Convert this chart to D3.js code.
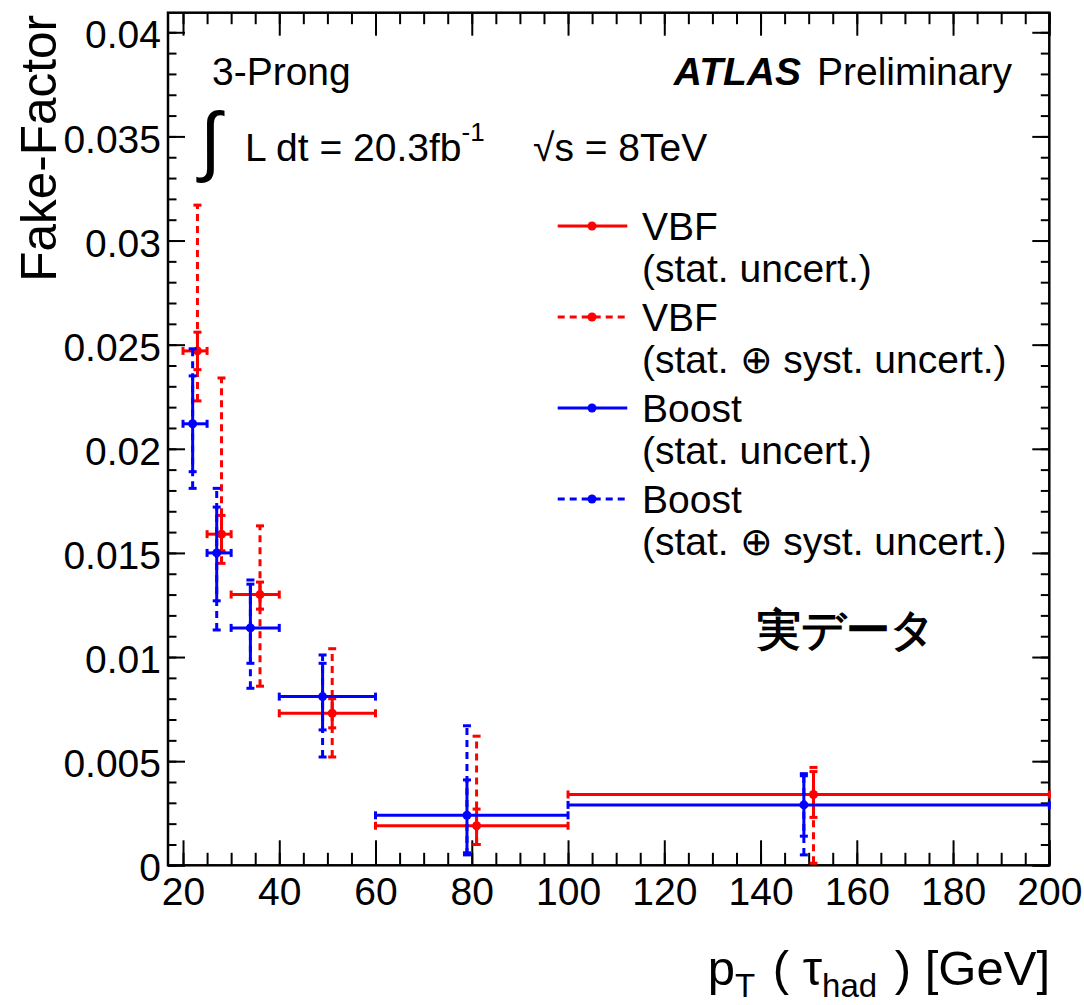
<!DOCTYPE html>
<html>
<head>
<meta charset="utf-8">
<script src="https://cdn.jsdelivr.net/npm/d3@7"></script>
<style>
  html, body { margin: 0; padding: 0; background: #fff; }
  svg { display: block; }
  text { font-family: "Liberation Sans", Arial, Helvetica, sans-serif; fill: #000; }
</style>
</head>
<body>
<svg id="chart" width="1084" height="1005"></svg>
<script>
// pT bins (GeV)
const binLow  = [20, 25, 30, 40, 60, 100];
const binHigh = [25, 30, 40, 60, 100, 200];

// VBF fake factors: points slightly shifted right within each bin
const vbfX      = [23, 28, 36, 51, 81, 151];
const vbfVal    = [0.0247, 0.0159, 0.0130, 0.0073, 0.0019, 0.0034];
const vbfStatLo = [0.0238, 0.0151, 0.0123, 0.0066, 0.0010, 0.0023];
const vbfStatHi = [0.0256, 0.0168, 0.0136, 0.0080, 0.0027, 0.0045];
const vbfTotLo  = [0.0223, 0.0145, 0.0086, 0.0052, 0.0010, 0.0001];
const vbfTotHi  = [0.0317, 0.0234, 0.0163, 0.0104, 0.0062, 0.0047];

// Boost fake factors: points slightly shifted left within each bin
const boostX      = [22, 27, 34, 49, 79, 149];
const boostVal    = [0.0212, 0.0150, 0.0114, 0.0081, 0.0024, 0.0029];
const boostStatLo = [0.0189, 0.0127, 0.0097, 0.0065, 0.0006, 0.0014];
const boostStatHi = [0.0235, 0.0172, 0.0135, 0.0097, 0.0041, 0.0043];
const boostTotLo  = [0.0181, 0.0113, 0.0085, 0.0052, 0.0005, 0.0005];
const boostTotHi  = [0.0248, 0.0181, 0.0137, 0.0101, 0.0067, 0.0044];

// Axis ticks
const xTicks      = [20, 40, 60, 80, 100, 120, 140, 160, 180, 200];
const xMinorTicks = d3.range(20, 200.1, 5);
const yTicks      = [0, 0.005, 0.01, 0.015, 0.02, 0.025, 0.03, 0.035, 0.04];
const yTickLabels = ["0", "0.005", "0.01", "0.015", "0.02", "0.025", "0.03", "0.035", "0.04"];
const yMinorTicks = d3.range(0, 0.0405, 0.001);

const svg = d3.select("#chart");
const frame = { left: 168, right: 1049.3, top: 12.7, bottom: 865.3 };

const x = d3.scaleLinear().domain([16.88, 200]).range([frame.left, frame.right]);
const y = d3.scaleLinear().domain([0, 0.04094]).range([frame.bottom, frame.top]);

const RED = "#ff0000", BLUE = "#0000ff";
const FS = 39;

// ---- axes (ticks point inward) ----
function styleAxis(g) {
  g.select(".domain").remove();
  g.selectAll(".tick line").attr("stroke", "#000").attr("stroke-width", 2);
}

const noLabel = () => "";

svg.append("g").attr("transform", `translate(0,${frame.bottom})`)
  .call(d3.axisBottom(x).tickValues(xMinorTicks).tickSize(-12.5).tickFormat(noLabel)).call(styleAxis);
svg.append("g").attr("transform", `translate(0,${frame.bottom})`)
  .call(d3.axisBottom(x).tickValues(xTicks).tickSize(-25).tickPadding(12).tickFormat(d3.format("d")))
  .call(styleAxis)
  .call(g => g.selectAll("text").attr("font-size", FS).attr("font-family", "Liberation Sans, Arial, sans-serif"));

svg.append("g").attr("transform", `translate(0,${frame.top})`)
  .call(d3.axisTop(x).tickValues(xMinorTicks).tickSize(-11.5).tickFormat(noLabel)).call(styleAxis);
svg.append("g").attr("transform", `translate(0,${frame.top})`)
  .call(d3.axisTop(x).tickValues(xTicks).tickSize(-23).tickFormat(noLabel)).call(styleAxis);

svg.append("g").attr("transform", `translate(${frame.left},0)`)
  .call(d3.axisLeft(y).tickValues(yMinorTicks).tickSize(-8.5).tickFormat(noLabel)).call(styleAxis);
svg.append("g").attr("transform", `translate(${frame.left},0)`)
  .call(d3.axisLeft(y).tickValues(yTicks).tickSize(-17).tickPadding(7)
    .tickFormat((d, i) => yTickLabels[i]))
  .call(styleAxis)
  .call(g => g.selectAll("text").attr("font-size", FS).attr("dy", "0.4em")
    .attr("font-family", "Liberation Sans, Arial, sans-serif"));

svg.append("g").attr("transform", `translate(${frame.right},0)`)
  .call(d3.axisRight(y).tickValues(yMinorTicks).tickSize(-8.5).tickFormat(noLabel)).call(styleAxis);
svg.append("g").attr("transform", `translate(${frame.right},0)`)
  .call(d3.axisRight(y).tickValues(yTicks).tickSize(-17).tickFormat(noLabel)).call(styleAxis);

// frame
svg.append("rect")
  .attr("x", frame.left).attr("y", frame.top)
  .attr("width", frame.right - frame.left).attr("height", frame.bottom - frame.top)
  .attr("fill", "none").attr("stroke", "#000").attr("stroke-width", 2.5);

// ---- error bars ----
const CAP = 4;
function drawSeries(color, xs, vals, statLo, statHi, totLo, totHi) {
  const g = svg.append("g");
  const rows = xs.map((xv, i) => ({
    xv, v: vals[i], lo: binLow[i], hi: binHigh[i],
    sLo: statLo[i], sHi: statHi[i], tLo: totLo[i], tHi: totHi[i]
  }));

  // total uncertainty: dashed vertical
  rows.forEach(r => {
    g.append("line")
      .attr("x1", x(r.xv)).attr("x2", x(r.xv))
      .attr("y1", y(r.tLo)).attr("y2", y(r.tHi))
      .attr("stroke", color).attr("stroke-width", 3).attr("stroke-dasharray", "7,5");
    [r.tLo, r.tHi].forEach(e => {
      g.append("line")
        .attr("x1", x(r.xv) - CAP).attr("x2", x(r.xv) + CAP)
        .attr("y1", y(e)).attr("y2", y(e))
        .attr("stroke", color).attr("stroke-width", 3);
    });
  });

  // statistical uncertainty + bin width: solid
  rows.forEach(r => {
    g.append("line")
      .attr("x1", x(r.lo)).attr("x2", x(r.hi))
      .attr("y1", y(r.v)).attr("y2", y(r.v))
      .attr("stroke", color).attr("stroke-width", 3);
    [r.lo, r.hi].forEach(e => {
      g.append("line")
        .attr("x1", x(e)).attr("x2", x(e))
        .attr("y1", y(r.v) - CAP).attr("y2", y(r.v) + CAP)
        .attr("stroke", color).attr("stroke-width", 3);
    });
    g.append("line")
      .attr("x1", x(r.xv)).attr("x2", x(r.xv))
      .attr("y1", y(r.sLo)).attr("y2", y(r.sHi))
      .attr("stroke", color).attr("stroke-width", 3);
    [r.sLo, r.sHi].forEach(e => {
      g.append("line")
        .attr("x1", x(r.xv) - CAP).attr("x2", x(r.xv) + CAP)
        .attr("y1", y(e)).attr("y2", y(e))
        .attr("stroke", color).attr("stroke-width", 3);
    });
    g.append("circle")
      .attr("cx", x(r.xv)).attr("cy", y(r.v)).attr("r", 4.5)
      .attr("fill", color);
  });
}

drawSeries(RED, vbfX, vbfVal, vbfStatLo, vbfStatHi, vbfTotLo, vbfTotHi);
drawSeries(BLUE, boostX, boostVal, boostStatLo, boostStatHi, boostTotLo, boostTotHi);

// ---- legend ----
const legendEntries = [
  { name: "VBF",   note: ["(stat. uncert.)"],                 color: RED,  dashed: false },
  { name: "VBF",   note: ["(stat. ", "\u2295", " syst. uncert.)"], color: RED,  dashed: true  },
  { name: "Boost", note: ["(stat. uncert.)"],                 color: BLUE, dashed: false },
  { name: "Boost", note: ["(stat. ", "\u2295", " syst. uncert.)"], color: BLUE, dashed: true  }
];
const leg = svg.append("g");
legendEntries.forEach((e, i) => {
  const ly = 226 + i * 91;
  leg.append("line")
    .attr("x1", 557.7).attr("x2", 627.3).attr("y1", ly).attr("y2", ly)
    .attr("stroke", e.color).attr("stroke-width", 3)
    .attr("stroke-dasharray", e.dashed ? "7,5" : null);
  leg.append("circle").attr("cx", 592).attr("cy", ly).attr("r", 4.5).attr("fill", e.color);
  leg.append("text").attr("x", 642).attr("y", ly + 14).attr("font-size", FS).text(e.name);
  const t = leg.append("text").attr("x", 642).attr("y", ly + 56).attr("font-size", FS);
  e.note.forEach(part => {
    const s = t.append("tspan").text(part);
    if (part === "\u2295") s.attr("font-family", "DejaVu Sans, sans-serif").attr("font-weight", 200);
  });
});

// ---- annotations ----
svg.append("text").attr("x", 212).attr("y", 85).attr("font-size", FS).text("3-Prong");

const atlas = svg.append("text").attr("x", 1012).attr("y", 85).attr("font-size", FS)
  .attr("text-anchor", "end");
atlas.append("tspan").attr("font-weight", "bold").attr("font-style", "italic").text("ATLAS");
atlas.append("tspan").attr("dx", 16).text("Preliminary");

svg.append("text").attr("x", 200).attr("y", 166).attr("font-size", 76)
  .attr("font-family", "Liberation Serif, serif").attr("font-style", "italic").text("\u222B");
const lumi = svg.append("text").attr("x", 245).attr("y", 161).attr("font-size", FS);
lumi.append("tspan").text("L dt = 20.3fb");
lumi.append("tspan").attr("font-size", 26).attr("dy", -20).text("-1");
svg.append("text").attr("x", 533).attr("y", 161).attr("font-size", FS).text("\u221As = 8TeV");

svg.append("text").attr("x", 846).attr("y", 645).attr("font-size", 44)
  .attr("font-weight", "bold").attr("text-anchor", "middle")
  .attr("font-family", "Noto Sans CJK JP, sans-serif").text("実データ");

// ---- axis titles ----
svg.append("text")
  .attr("transform", "translate(56,15) rotate(-90)")
  .attr("text-anchor", "end").attr("font-size", 49.5).text("Fake-Factor");

const xt = svg.append("text").attr("x", 1050).attr("y", 985)
  .attr("text-anchor", "end").attr("font-size", 49);
xt.append("tspan").text("p");
xt.append("tspan").attr("font-size", 33).attr("dy", 12).text("T");
xt.append("tspan").attr("dy", -12).attr("dx", 4).text(" ( \u03C4");
xt.append("tspan").attr("font-size", 33).attr("dy", 12).text("had");
xt.append("tspan").attr("dy", -12).attr("dx", 4).text(" ) [GeV]");
</script>
</body>
</html>
